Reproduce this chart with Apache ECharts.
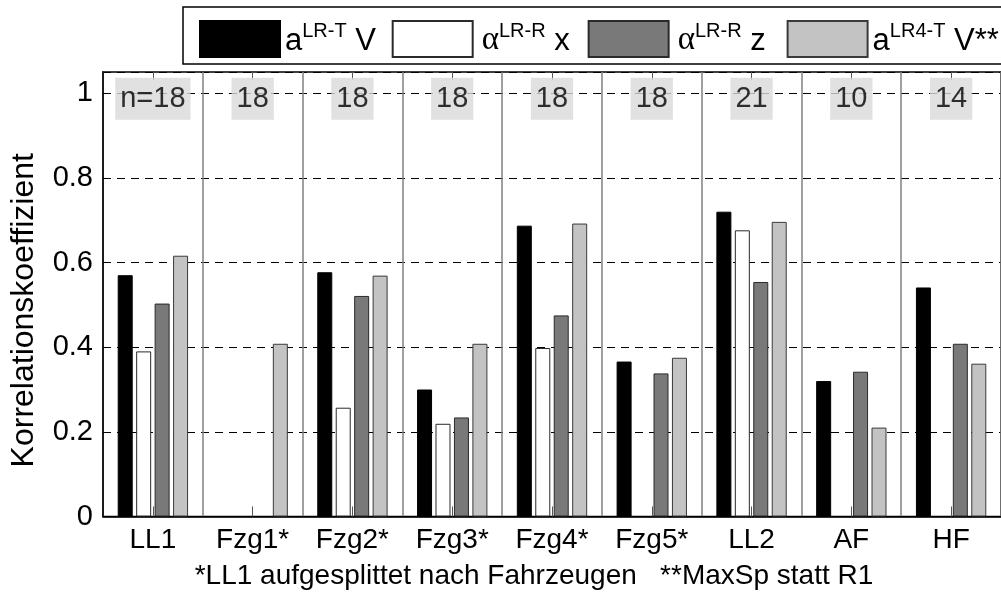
<!DOCTYPE html>
<html>
<head>
<meta charset="utf-8">
<script src="https://cdn.jsdelivr.net/npm/echarts@6/dist/echarts.min.js"></script>
<style>
  html, body { margin: 0; padding: 0; background: #fff; }
  #chart { width: 1001px; height: 596px; }
</style>
</head>
<body>
<div id="chart"></div>
<script>
// Groups along the x axis
const categories = ['LL1', 'Fzg1*', 'Fzg2*', 'Fzg3*', 'Fzg4*', 'Fzg5*', 'LL2', 'AF', 'HF'];
// Sample size shown above each group
const sampleSizes = ['n=18', '18', '18', '18', '18', '18', '21', '10', '14'];

// Correlation coefficients per measure (null = not available)
const aLRT_V     = [0.570, null, 0.577, 0.300, 0.687, 0.366, 0.720, 0.320, 0.541];
const alphaLRR_x = [0.390, null, 0.257, 0.219, 0.398, null, 0.676, null, null];
const alphaLRR_z = [0.503, null, 0.521, 0.234, 0.475, 0.338, 0.554, 0.342, 0.408];
const aLR4T_V    = [0.616, 0.408, 0.569, 0.408, 0.692, 0.375, 0.696, 0.210, 0.361];

const seriesNames = ['aLR-T V', 'αLR-R x', 'αLR-R z', 'aLR4-T V**'];
// legend captions: base letter, superscript, trailing symbol (t1..t4 reserve the item widths)
const legendRich = {
  'aLR-T V':    '{m|a}{s|LR-T}{t1| V}',
  'αLR-R x':    '{g|α}{s|LR-R}{t2| x}',
  'αLR-R z':    '{g|α}{s|LR-R}{t3| z}',
  'aLR4-T V**': '{m|a}{s|LR4-T}{t4| V**}'
};

const yAxisTitle = 'Korrelationskoeffizient';
const footnote = '*LL1 aufgesplittet nach Fahrzeugen   **MaxSp statt R1';

const SANS = "'Liberation Sans', Arial, sans-serif";
const SERIF = "'Liberation Serif', 'Times New Roman', serif";
const LABEL_Y = 0.987;   // vertical anchor of the sample-size boxes

const barStyle = [
  { color: '#000000', borderColor: '#000000', borderWidth: 1 },
  { color: '#ffffff', borderColor: '#2a2a2a', borderWidth: 1 },
  { color: '#797979', borderColor: '#2a2a2a', borderWidth: 1 },
  { color: '#c3c3c3', borderColor: '#3a3a3a', borderWidth: 1 }
];
const barData = [aLRT_V, alphaLRR_x, alphaLRR_z, aLR4T_V];

const chart = echarts.init(document.getElementById('chart'), null, { renderer: 'canvas' });

const series = barData.map((d, i) => ({
  name: seriesNames[i],
  type: 'bar',
  data: d,
  barWidth: 15,
  barGap: '23%',
  itemStyle: barStyle[i],
  emphasis: { disabled: true },
  z: 2
}));

series.push({
  name: 'n',
  type: 'scatter',
  data: sampleSizes.map(() => LABEL_Y),
  symbolSize: 0,
  silent: true,
  z: 5,
  label: {
    show: true,
    position: 'inside',
    formatter: p => sampleSizes[p.dataIndex],
    fontFamily: SANS,
    fontSize: 29,
    color: '#000',
    backgroundColor: '#d9d9d9',
    lineHeight: 30,
    padding: [6, 5, 6, 5]
  }
});

const mainText = { fontFamily: SANS, fontSize: 31, lineHeight: 36, padding: [14, 0, 0, 0], verticalAlign: 'bottom', color: '#000' };

chart.setOption({
  animation: false,
  backgroundColor: '#ffffff',
  grid: {
    left: 102, right: -8, top: 72, bottom: 79.5,
    show: true, borderColor: '#000', borderWidth: 1.5, backgroundColor: 'transparent'
  },
  legend: {
    data: seriesNames,
    left: 183, top: 7, width: 880,
    orient: 'horizontal',
    icon: 'rect',
    itemWidth: 80, itemHeight: 36, itemGap: 0,
    padding: [3, 40, 6, 16],
    borderColor: '#000', borderWidth: 1.5,
    backgroundColor: '#fff',
    selectedMode: false,
    formatter: name => legendRich[name],
    textStyle: {
      color: '#000',
      rich: {
        m: mainText,
        g: { fontFamily: SERIF, fontSize: 33, lineHeight: 36, padding: [14, 0, 0, 4], verticalAlign: 'bottom', color: '#000' },
        s: { fontFamily: SANS, fontSize: 20, lineHeight: 34, verticalAlign: 'top', color: '#000' },
        t1: Object.assign({}, mainText, { width: 45 }),
        t2: Object.assign({}, mainText, { width: 42 }),
        t3: Object.assign({}, mainText, { width: 45 }),
        t4: mainText
      }
    }
  },
  xAxis: [
    {
      type: 'category',
      data: categories,
      position: 'bottom',
      axisLine: { show: true, lineStyle: { color: '#000', width: 1.5 } },
      axisTick: { show: true, inside: true, alignWithLabel: true, length: 10, lineStyle: { color: '#555', width: 1 } },
      axisLabel: { fontFamily: SANS, fontSize: 28, color: '#000', margin: 10 },
      splitLine: { show: true, lineStyle: { color: '#808080', width: 1.5 } },
      name: footnote,
      nameLocation: 'middle',
      nameGap: 46,
      nameTextStyle: { fontFamily: SANS, fontSize: 28, color: '#000', padding: [0, 36, 0, 0] }
    },
    {
      type: 'category',
      data: categories,
      position: 'top',
      axisLine: { show: false },
      axisTick: { show: true, inside: true, alignWithLabel: true, length: 8, lineStyle: { color: '#555', width: 1 } },
      axisLabel: { show: false },
      splitLine: { show: false }
    }
  ],
  yAxis: {
    type: 'value',
    min: 0, max: 1.05, interval: 0.2,
    axisLine: { show: true, lineStyle: { color: '#000', width: 1.5 } },
    axisTick: { show: true, inside: true, length: 8, lineStyle: { color: '#000', width: 1 } },
    axisLabel: { fontFamily: SANS, fontSize: 29, color: '#000', margin: 10, showMaxLabel: false },
    splitLine: { show: true, lineStyle: { color: '#000', width: 1, type: [8, 6] } },
    name: yAxisTitle,
    nameLocation: 'middle',
    nameRotate: 90,
    nameGap: 63,
    nameTextStyle: { fontFamily: SANS, fontSize: 32, color: '#000', padding: [0, 32, 0, 0] }
  },
  series: series
});
</script>
</body>
</html>
